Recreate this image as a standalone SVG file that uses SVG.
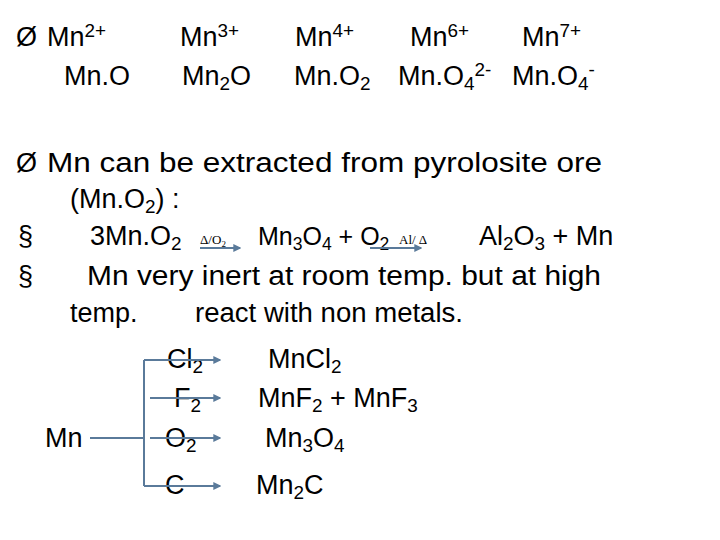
<svg xmlns="http://www.w3.org/2000/svg" width="720" height="540" viewBox="0 0 720 540">
<style>
text{font-family:"Liberation Sans","DejaVu Sans",sans-serif;fill:#000}
.t{font-size:27px}
.b{font-size:27px}
.s{font-size:70%}
.sm{font-family:"Liberation Serif",serif;font-size:13px}
.c{stroke:#5a7a9a;stroke-width:2;fill:none}
</style>
<defs><marker id="a" viewBox="0 0 6 6" refX="5" refY="3" markerWidth="4" markerHeight="4" orient="auto"><path d="M0,0L6,3L0,6z" fill="#5a7a9a"/></marker></defs>
<g id="header">
<text class="t" x="16" y="46">Ø</text>
<text class="t" x="47" y="46">Mn<tspan class="s" baseline-shift="9">2+</tspan></text>
<text class="t" x="180" y="46">Mn<tspan class="s" baseline-shift="9">3+</tspan></text>
<text class="t" x="295" y="46">Mn<tspan class="s" baseline-shift="9">4+</tspan></text>
<text class="t" x="410" y="46">Mn<tspan class="s" baseline-shift="9">6+</tspan></text>
<text class="t" x="522" y="46">Mn<tspan class="s" baseline-shift="9">7+</tspan></text>
<text class="t" x="64" y="85">Mn.O</text>
<text class="t" x="182" y="85">Mn<tspan class="s" baseline-shift="-5">2</tspan>O</text>
<text class="t" x="294" y="85">Mn.O<tspan class="s" baseline-shift="-5">2</tspan></text>
<text class="t" x="398" y="85">Mn.O<tspan class="s" baseline-shift="-5">4</tspan><tspan class="s" baseline-shift="9">2-</tspan></text>
<text class="t" x="512" y="85">Mn.O<tspan class="s" baseline-shift="-5">4</tspan><tspan class="s" baseline-shift="9">-</tspan></text>
</g>
<g id="body">
<text class="b" x="16" y="172">Ø</text>
<text class="b" x="47" y="172" textLength="555" lengthAdjust="spacingAndGlyphs">Mn  can be extracted from pyrolosite ore</text>
<text class="b" x="70" y="208">(Mn.O<tspan class="s" baseline-shift="-5">2</tspan><tspan>) :</tspan></text>
<text class="b" x="18" y="245" font-size="20">§</text>
<text class="b" x="90" y="245">3Mn.O<tspan class="s" baseline-shift="-5">2</tspan></text>
<text class="sm" x="200" y="244">Δ/O<tspan font-size="9" baseline-shift="-3">2</tspan></text>
<text x="258" y="245" font-size="25">Mn<tspan class="s" baseline-shift="-5">3</tspan><tspan>O</tspan><tspan class="s" baseline-shift="-5">4</tspan><tspan> + O</tspan><tspan class="s" baseline-shift="-5">2</tspan></text>
<text class="sm" x="399" y="244">Al/ Δ</text>
<text class="b" x="479" y="245">Al<tspan class="s" baseline-shift="-5">2</tspan><tspan>O</tspan><tspan class="s" baseline-shift="-5">3</tspan><tspan> + Mn</tspan></text>
<text class="b" x="18" y="285" font-size="20">§</text>
<text class="b" x="87" y="285" textLength="514" lengthAdjust="spacingAndGlyphs">Mn very inert at room temp. but at high</text>
<text class="b" x="70" y="322">temp.</text>
<text class="b" x="195" y="322" textLength="268" lengthAdjust="spacingAndGlyphs">react with non metals.</text>
</g>
<g id="n-Mn"><text class="b" x="45" y="447">Mn</text></g>
<g id="n-Cl2"><text class="b" x="167" y="368">Cl<tspan class="s" baseline-shift="-5">2</tspan></text><text class="b" x="268" y="368">MnCl<tspan class="s" baseline-shift="-5">2</tspan></text></g>
<g id="n-F2"><text class="b" x="174" y="407">F<tspan class="s" baseline-shift="-5">2</tspan></text><text class="b" x="258" y="407">MnF<tspan class="s" baseline-shift="-5">2</tspan><tspan> + MnF</tspan><tspan class="s" baseline-shift="-5">3</tspan></text></g>
<g id="n-O2"><text class="b" x="165" y="447">O<tspan class="s" baseline-shift="-5">2</tspan></text><text class="b" x="265" y="447">Mn<tspan class="s" baseline-shift="-5">3</tspan><tspan>O</tspan><tspan class="s" baseline-shift="-5">4</tspan></text></g>
<g id="n-C"><text class="b" x="165" y="494">C</text><text class="b" x="256" y="494">Mn<tspan class="s" baseline-shift="-5">2</tspan><tspan>C</tspan></text></g>
<g id="connectors">
<path class="c" d="M200,248H240" marker-end="url(#a)"/>
<path class="c" d="M370,248H421" marker-end="url(#a)"/>
<path class="c" d="M90,438H144M144,360V486"/>
<path class="c" d="M144,360H220" marker-end="url(#a)"/>
<path class="c" d="M150,398H220" marker-end="url(#a)"/>
<path class="c" d="M150,438H220" marker-end="url(#a)"/>
<path class="c" d="M144,486H220" marker-end="url(#a)"/>
</g>
</svg>
